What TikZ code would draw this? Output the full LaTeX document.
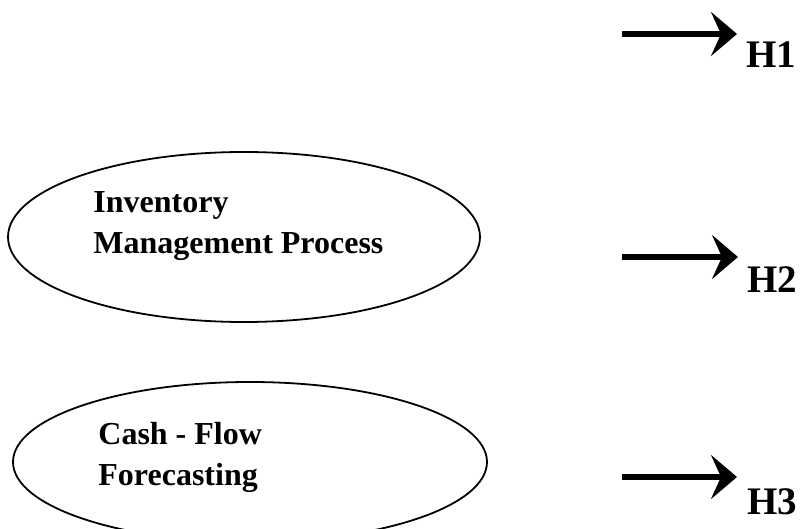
\documentclass[tikz,border=0pt]{standalone}
\usepackage{fontspec}
\setmainfont{Liberation Serif}
\usetikzlibrary{shapes.geometric,arrows.meta}

\tikzset{
	oval/.style={draw=black, line width=0.9pt, ellipse, inner sep=0pt},
	factor/.style={inner sep=0pt, align=left, anchor=base west, font=\fontsize{16}{20.5}\selectfont\bfseries},
	hyp/.style={inner sep=0pt, anchor=base west, font=\fontsize{19.5}{23}\selectfont\bfseries},
	hyparrow/.style={black, line width=3.2pt, -{Stealth[length=13pt, width=22pt, inset=5pt]}}
}

\begin{document}
\begin{tikzpicture}[x=0.5pt, y=-0.5pt]
		
		\useasboundingbox (0,0) rectangle (809,529);
		
		% the two ovals on the left (text nodes sit on their last line)
		\node[oval, minimum width=236pt, minimum height=85pt] (inv) at (244,237) {};
		\node[factor] (invtext) at (93,254) {Inventory\\Management Process};
		\node[oval, minimum width=237pt, minimum height=80pt] (cash) at (250,462) {};
		\node[factor] (cashtext) at (98,485) {Cash - Flow\\Forecasting};
		
		% hypotheses
		\node[hyp] (h1) at (746,68) {H1};
		\node[hyp] (h2) at (747,293) {H2};
		\node[hyp] (h3) at (747,514) {H3};
		
		\coordinate (s1) at (622,34);
		\coordinate (t1) at (737,34);
		\coordinate (s2) at (622,257);
		\coordinate (t2) at (738,257);
		\coordinate (s3) at (622,477);
		\coordinate (t3) at (737,477);
		\draw[hyparrow] (s1) -- (t1);
		\draw[hyparrow] (s2) -- (t2);
		\draw[hyparrow] (s3) -- (t3);
		
	\end{tikzpicture}
\end{document}
